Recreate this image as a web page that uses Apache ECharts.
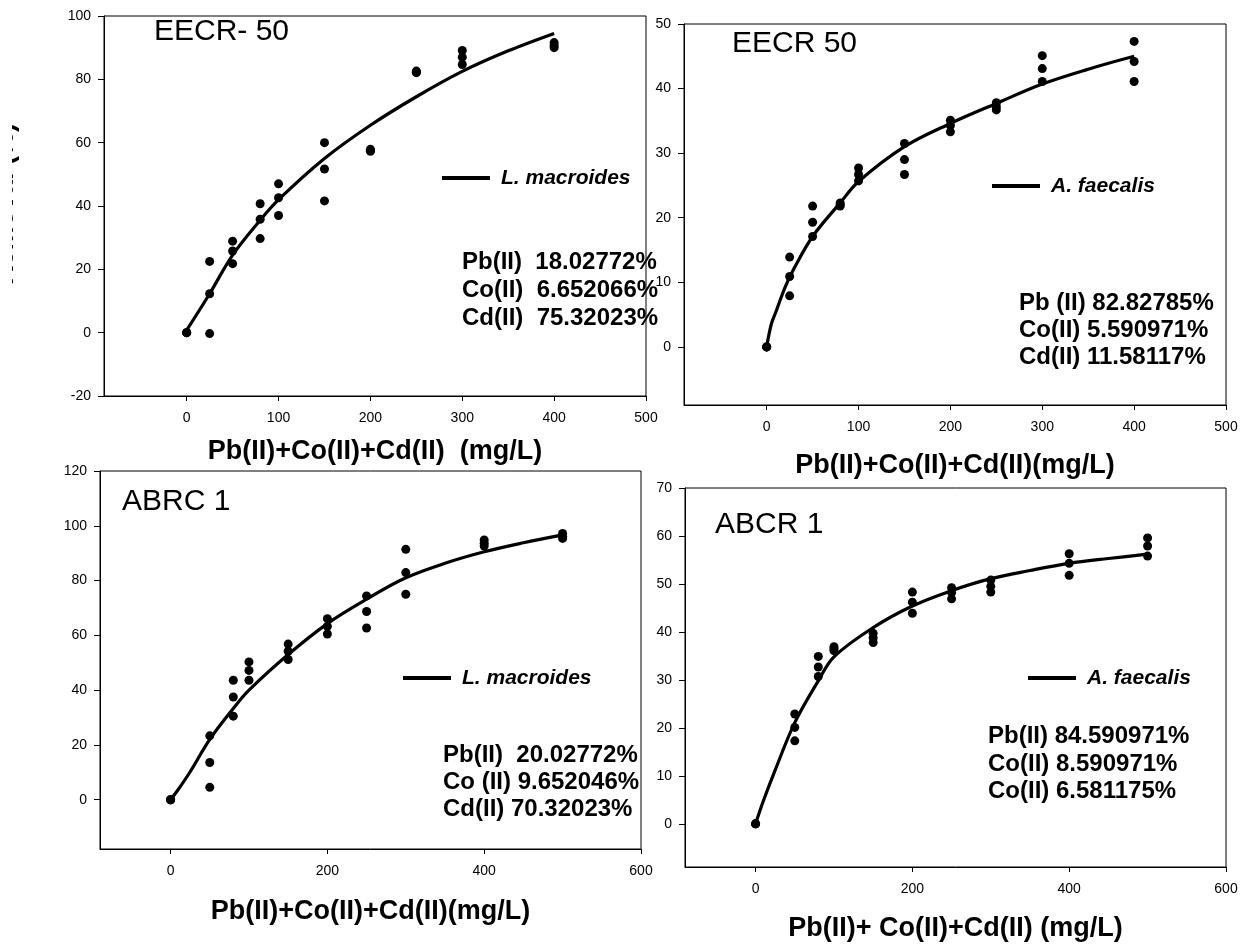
<!DOCTYPE html>
<html>
<head>
<meta charset="utf-8">
<script src="https://cdn.jsdelivr.net/npm/echarts@6/dist/echarts.min.js"></script>
<style>
html,body{margin:0;padding:0;background:#fff;}
#chart{width:1254px;height:944px;}
</style>
</head>
<body>
<div id="chart"></div>
<script>
// ---------- Data ----------
// Panel 1: EECR- 50, L. macroides
const p1X = [0,0,0,25,25,25,50,50,50,80,80,80,100,100,100,150,150,150,200,200,200,250,250,250,300,300,300,400,400,400];
const p1Y = [0,0,0,22.5,12.3,-0.3,28.9,25.8,21.8,40.7,35.8,29.7,47.0,42.6,37.0,60.0,51.7,41.6,57.9,57.5,57.3,82.6,82.3,82.1,89.1,87.0,84.7,91.6,90.7,90.0];
const p1FitX = [0,25,50,80,100,150,200,250,300,350,400];
const p1FitY = [0.8,12.3,24.5,35.5,42,55,65.5,74.5,82.5,89,94.5];

// Panel 2: EECR 50, A. faecalis
const p2X = [0,0,0,25,25,25,50,50,50,80,80,80,100,100,100,150,150,150,200,200,200,250,250,250,300,300,300,400,400,400];
const p2Y = [0,0,0,13.9,10.9,7.9,21.8,19.3,17.1,22.3,22.0,21.8,27.7,26.7,25.7,31.5,29.0,26.7,35.1,34.3,33.3,37.8,37.2,36.7,45.1,43.1,41.1,47.3,44.2,41.1];
const p2FitX = [0,5,10,20,30,50,80,100,150,200,250,300,350,400];
const p2FitY = [0,3.5,5.4,9.2,12.2,17.1,22.3,25.6,31,34.6,37.7,40.7,43,45];

// Panel 3: ABRC 1, L. macroides
const p3X = [0,0,0,50,50,50,80,80,80,100,100,100,150,150,150,200,200,200,250,250,250,300,300,300,400,400,400,500,500,500];
const p3Y = [0,0,0,23.3,13.6,4.5,43.6,37.5,30.5,50.3,47.2,43.6,56.8,54.2,51.2,66.1,63.3,60.5,74.4,68.7,62.7,91.4,82.9,75.0,94.8,93.6,92.6,97.2,96.2,95.4];
const p3FitX = [0,10,25,50,80,100,150,200,250,300,350,400,450,500];
const p3FitY = [0,3.8,10.2,22,33.3,40,53,64.3,73.2,81,86.3,90.5,93.8,96.7];

// Panel 4: ABCR 1, A. faecalis
const p4X = [0,0,0,50,50,50,80,80,80,100,100,100,150,150,150,200,200,200,250,250,250,300,300,300,400,400,400,500,500,500];
const p4Y = [0,0,0,22.9,20.1,17.3,34.9,32.7,30.7,36.9,36.5,36.1,39.7,38.8,37.8,48.3,46.2,43.9,49.2,48.2,46.9,50.8,49.5,48.3,56.3,54.3,51.8,59.6,57.9,55.8];
const p4FitX = [0,10,25,50,80,100,150,200,250,300,350,400,450,500];
const p4FitY = [0,4.8,11.2,21.1,29.8,34.8,40.9,45.4,48.6,51.1,52.8,54.3,55.3,56.2];

// Tick labels
const xTicks500 = [0,100,200,300,400,500];
const xTicks600 = [0,200,400,600];
const yTicks1 = [-20,0,20,40,60,80,100];
const yTicks2 = [0,10,20,30,40,50];
const yTicks3 = [0,20,40,60,80,100,120];
const yTicks4 = [0,10,20,30,40,50,60,70];

// Texts
const panelLabels = ['EECR- 50','EECR 50','ABRC 1','ABCR 1'];
const speciesNames = ['L. macroides','A. faecalis','L. macroides','A. faecalis'];
const xTitles = ['Pb(II)+Co(II)+Cd(II)  (mg/L)','Pb(II)+Co(II)+Cd(II)(mg/L)','Pb(II)+Co(II)+Cd(II)(mg/L)','Pb(II)+ Co(II)+Cd(II) (mg/L)'];
const stats1 = ['Pb(II)  18.02772%','Co(II)  6.652066%','Cd(II)  75.32023%'];
const stats2 = ['Pb (II) 82.82785%','Co(II) 5.590971%','Cd(II) 11.58117%'];
const stats3 = ['Pb(II)  20.02772%','Co (II) 9.652046%','Cd(II) 70.32023%'];
const stats4 = ['Pb(II) 84.590971%','Co(II) 8.590971%','Co(II) 6.581175%'];
const yTitle = 'Removal (%)';

// ---------- Build ----------
const FONT = 'Liberation Sans, Arial, Helvetica, sans-serif';
const zip = (a, b) => a.map((v, i) => [v, b[i]]);

const grids = [
  {left:104, top:16, width:542, height:380},
  {left:684, top:24, width:542, height:381},
  {left:100, top:471, width:541, height:378},
  {left:685, top:488, width:541, height:379}
].map(g => Object.assign({show:true, borderColor:'#000', borderWidth:1, backgroundColor:'transparent'}, g));

const xRanges = [[-90,500,xTicks500],[-90,500,xTicks500],[-90,600,xTicks600],[-90,600,xTicks600]];
const yRanges = [[-20,100,yTicks1],[-9,50,yTicks2],[-18,120,yTicks3],[-9,70,yTicks4]];
const nameGaps = [43,48,50,49];

const xAxes = xRanges.map((r, i) => ({
  type:'value', gridIndex:i, min:r[0], max:r[1],
  name: xTitles[i], nameLocation:'middle', nameGap:nameGaps[i],
  nameTextStyle:{fontSize:27, fontWeight:'bold', color:'#000', fontFamily:FONT, lineHeight:26},
  axisLine:{show:true, onZero:false, lineStyle:{color:'#000', width:1}},
  axisTick:{show:true, inside:false, length:5, customValues:r[2], lineStyle:{color:'#000'}},
  axisLabel:{show:true, customValues:r[2], fontSize:14, color:'#000', margin:15, fontFamily:FONT},
  splitLine:{show:false}
}));

const yAxes = yRanges.map((r, i) => ({
  type:'value', gridIndex:i, min:r[0], max:r[1],
  axisLine:{show:true, onZero:false, lineStyle:{color:'#000', width:1}},
  axisTick:{show:true, inside:false, length:6, customValues:r[2], lineStyle:{color:'#000'}},
  axisLabel:{show:true, customValues:r[2], fontSize:14, color:'#000', margin:13, fontFamily:FONT},
  splitLine:{show:false}
}));

const pts = [[p1X,p1Y],[p2X,p2Y],[p3X,p3Y],[p4X,p4Y]];
const fits = [[p1FitX,p1FitY],[p2FitX,p2FitY],[p3FitX,p3FitY],[p4FitX,p4FitY]];

const series = [];
fits.forEach((f, i) => {
  series.push({
    name: speciesNames[i], type:'line', xAxisIndex:i, yAxisIndex:i,
    data: zip(f[0], f[1]), smooth:0.35, symbol:'none',
    lineStyle:{color:'#000', width:3.2}, itemStyle:{color:'#000'}, z:3
  });
});
pts.forEach((p, i) => {
  series.push({
    name: speciesNames[i] + ' data', type:'scatter', xAxisIndex:i, yAxisIndex:i,
    data: zip(p[0], p[1]), symbol:'circle', symbolSize:9,
    itemStyle:{color:'#000', opacity:1}, z:4
  });
});

const legendPos = [[442,167],[992,175],[403,667],[1028,667]];
const legends = legendPos.map((pos, i) => ({
  data:[{name:speciesNames[i], icon:'rect'}], left:pos[0], top:pos[1], padding:0,
  itemWidth:48, itemHeight:4, selectedMode:false,
  textStyle:{fontSize:21, fontWeight:'bold', fontStyle:'italic', color:'#000', fontFamily:FONT, lineHeight:22, padding:[0,0,0,6]}
}));

const labelPos = [[154,17],[732,29],[122,487],[715,510]];
const statsPos = [[462,248,28],[1019,290,27],[443,742,27],[988,723,27.3]];
const statsTexts = [stats1, stats2, stats3, stats4];

const titles = [];
labelPos.forEach((pos, i) => titles.push({
  text: panelLabels[i], left:pos[0], top:pos[1], padding:0,
  textStyle:{fontSize:30, fontWeight:'normal', color:'#000', fontFamily:FONT, lineHeight:30}
}));
statsPos.forEach((pos, i) => titles.push({
  text: statsTexts[i].join('\n'), left:pos[0], top:pos[1], padding:0,
  textStyle:{fontSize:24, fontWeight:'bold', color:'#000', fontFamily:FONT, lineHeight:pos[2]}
}));

const option = {
  animation:false,
  backgroundColor:'#fff',
  textStyle:{fontFamily:FONT},
  grid: grids,
  xAxis: xAxes,
  yAxis: yAxes,
  legend: legends,
  title: titles,
  series: series,
  graphic: [
    {type:'text', x:19.5, y:204, rotation:Math.PI/2, z:50,
     style:{text:yTitle, fontSize:27, fontWeight:'bold', fontFamily:FONT, fill:'#000', textAlign:'center', textVerticalAlign:'bottom'}},
    {type:'rect', shape:{x:0, y:0, width:12, height:944}, style:{fill:'#fff'}, z:60}
  ]
};

const chart = echarts.init(document.getElementById('chart'), null, {renderer:'canvas'});
chart.setOption(option);
</script>
</body>
</html>
